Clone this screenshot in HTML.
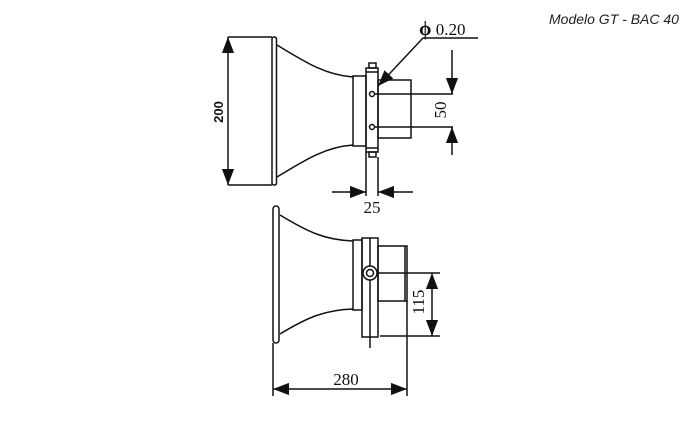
<!DOCTYPE html>
<html><head><style>html,body{margin:0;padding:0;background:#fff;width:700px;height:422px;overflow:hidden}</style></head>
<body>
<svg width="700" height="422" viewBox="0 0 700 422" xmlns="http://www.w3.org/2000/svg">
<defs>
<marker id="b" viewBox="0 0 10 10" refX="10" refY="5" markerWidth="16" markerHeight="16" markerUnits="userSpaceOnUse" orient="auto"><path d="M0,1.2 L10,5 L0,8.8 z" fill="#111"/></marker>
</defs>
<g fill="none" stroke="#111" stroke-width="1.5">
<!-- top view -->
<rect x="272" y="37" width="4.5" height="148" rx="2"/>
<path d="M277,45 C305,62 325,75 353,77"/>
<path d="M277,177 C305,160 325,147 353,145"/>
<rect x="353" y="76" width="13" height="70"/>
<rect x="366" y="68" width="12" height="84"/>
<rect x="369" y="63" width="7" height="5"/>
<rect x="369" y="152" width="7" height="5"/>
<line x1="366" y1="72" x2="378" y2="72"/><line x1="366" y1="148" x2="378" y2="148"/>
<rect x="378" y="80" width="33" height="58"/>
<circle cx="372" cy="94" r="2.5"/><circle cx="372" cy="127" r="2.5"/>
<line x1="375" y1="94" x2="453" y2="94"/><line x1="375" y1="127" x2="453" y2="127"/>
<line x1="452" y1="50" x2="452" y2="94" marker-end="url(#b)"/>
<line x1="452" y1="155" x2="452" y2="127" marker-end="url(#b)"/>
<line x1="228" y1="37" x2="272" y2="37"/><line x1="228" y1="185" x2="272" y2="185"/>
<line x1="228" y1="111" x2="228" y2="37" marker-end="url(#b)"/>
<line x1="228" y1="111" x2="228" y2="185" marker-end="url(#b)"/>
<line x1="366" y1="152" x2="366" y2="196"/><line x1="378" y1="157" x2="378" y2="196"/>
<line x1="332" y1="192" x2="366" y2="192" marker-end="url(#b)"/>
<line x1="413" y1="192" x2="378" y2="192" marker-end="url(#b)"/>
<line x1="423" y1="38" x2="478" y2="38"/>
<line x1="423" y1="38" x2="378" y2="86" marker-end="url(#b)"/>
<!-- bottom view -->
<rect x="273" y="206" width="6" height="137" rx="3"/>
<path d="M280,215 C308,232 325,240 353,241"/>
<path d="M280,334 C308,317 325,310 353,309"/>
<rect x="353" y="240" width="9" height="70"/>
<rect x="362" y="238" width="16" height="99"/>
<line x1="370" y1="238" x2="370" y2="348"/>
<rect x="378" y="246" width="29" height="55"/>
<line x1="405" y1="246" x2="405" y2="301"/>
<circle cx="370" cy="273" r="7" fill="#fff"/><circle cx="370" cy="273" r="3.5"/>
<line x1="377" y1="273" x2="440" y2="273"/><line x1="380" y1="336" x2="440" y2="336"/>
<line x1="432" y1="303" x2="432" y2="273" marker-end="url(#b)"/>
<line x1="432" y1="303" x2="432" y2="336" marker-end="url(#b)"/>
<line x1="273" y1="343" x2="273" y2="396"/><line x1="407" y1="301" x2="407" y2="396"/>
<line x1="340" y1="389" x2="273" y2="389" marker-end="url(#b)"/>
<line x1="340" y1="389" x2="407" y2="389" marker-end="url(#b)"/>
</g>
<g font-family="Liberation Serif, serif" font-size="17" fill="#111">
<text x="419" y="35"><tspan font-size="20" font-weight="bold">ϕ</tspan> 0.20</text>
<text x="372" y="213" text-anchor="middle">25</text>
<text x="346" y="385" text-anchor="middle">280</text>
<text transform="translate(446,110) rotate(-90)" text-anchor="middle">50</text>
<text transform="translate(424,302) rotate(-90)" text-anchor="middle">115</text>
<text transform="translate(223,112) rotate(-90)" text-anchor="middle" font-family="Liberation Sans, sans-serif" font-weight="bold" font-size="13">200</text>
</g>
<text x="549" y="24" font-family="Liberation Sans, sans-serif" font-style="italic" font-size="14" fill="#222">Modelo GT - BAC 40</text>
</svg>
</body></html>
